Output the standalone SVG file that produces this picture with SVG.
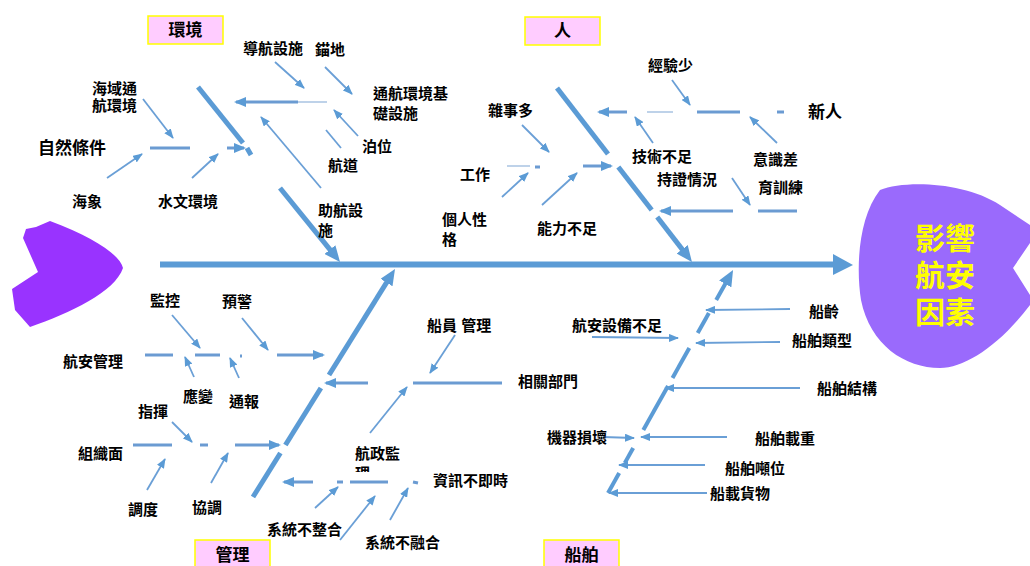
<svg xmlns="http://www.w3.org/2000/svg" width="1030" height="566" viewBox="0 0 1030 566">
<style>
.t{font-family:"Liberation Sans","Noto Sans CJK TC",sans-serif;font-weight:bold;font-size:15px;fill:#000;dominant-baseline:central}
.big{font-size:17px}
.hd{font-family:"Liberation Sans","Noto Sans CJK TC",sans-serif;font-weight:bold;font-size:30px;fill:#ffff00;text-anchor:middle;dominant-baseline:central}
.box{fill:#ffccff;stroke:#ffff00;stroke-width:1.5}
.bone{stroke:#5b9bd5;stroke-width:5;fill:none}
.sb{stroke:#6b9bd2;stroke-width:3;fill:none}
.sbl{stroke:#a9c3e2;stroke-width:1.5;fill:none}
.ar{stroke:#6a9fd6;stroke-width:1.8;fill:none;marker-end:url(#ah)}
.sa{stroke:#6b9bd2;stroke-width:3;fill:none;marker-end:url(#ah2)}
.ln{stroke:#6a9fd6;stroke-width:1.8;fill:none}
</style>
<defs>
<marker id="ah" markerUnits="userSpaceOnUse" markerWidth="10" markerHeight="8" refX="9" refY="4" orient="auto"><path d="M0,0 L10,4 L0,8 Z" fill="#5b9bd5"/></marker>
<marker id="ah2" markerUnits="userSpaceOnUse" markerWidth="12" markerHeight="10" refX="10" refY="5" orient="auto"><path d="M0,0 L12,5 L0,10 Z" fill="#5b9bd5"/></marker>
<marker id="big" markerUnits="userSpaceOnUse" markerWidth="16" markerHeight="14" refX="2" refY="7" orient="auto"><path d="M0,0 L16,7 L0,14 Z" fill="#5b9bd5"/></marker>
<clipPath id="clipLi"><rect x="350" y="462" width="60" height="10"/></clipPath>
</defs>

<g id="tail"><path d="M50,221 L36,227 L26,229 L23,238 L38,272 L12,289 L15,310 L30,327 C70,313 115,292 123,268 C120,255 95,238 50,221 Z" fill="#9933ff"/></g>

<g id="head">
<path d="M880,190 C905,180 965,182 1000,205 L1030,225 L1030,243 L1013,268 L1030,295 L1030,305 C1000,345 965,368 940,368 C905,368 870,345 861,300 C856,268 858,218 880,190 Z" fill="#9a6afc"/>
<text class="hd" x="945" y="238">影響</text>
<text class="hd" x="945" y="275">航安</text>
<text class="hd" x="945" y="312">因素</text>
</g>

<g id="connectors">
<!-- spine -->
<line x1="160" y1="264.5" x2="836" y2="264.5" stroke="#5b9bd5" stroke-width="6"/>
<polygon points="833,254 853,265 833,275" fill="#5b9bd5"/>
<!-- environment bone -->
<line class="bone" x1="198" y1="87" x2="243" y2="143"/>
<line class="bone" x1="247" y1="148" x2="251" y2="155"/>
<line class="bone" x1="280" y1="188" x2="331.2" y2="251.1" marker-end="url(#big)"/>
<!-- people bone -->
<line class="bone" x1="557" y1="88" x2="608" y2="154"/>
<line class="bone" x1="618.3" y1="167" x2="651.7" y2="210"/>
<line class="bone" x1="657.2" y1="217" x2="683.4" y2="250.9" marker-end="url(#big)"/>
<!-- management bone -->
<line class="bone" x1="253" y1="497" x2="280.4" y2="453"/>
<line class="bone" x1="285.4" y1="445" x2="320.9" y2="388"/>
<line class="bone" x1="329" y1="375" x2="387.6" y2="280.9" marker-end="url(#big)"/>
<!-- ship bone -->
<g stroke="#5b9bd5" stroke-width="4" fill="none">
<line x1="608" y1="493" x2="619.2" y2="473"/>
<line x1="624.8" y1="463" x2="633.2" y2="448"/>
<line x1="643.3" y1="430" x2="668" y2="386"/>
<line x1="672.5" y1="378" x2="689.3" y2="348"/>
<line x1="697.7" y1="333" x2="708.9" y2="313"/>
<line x1="716.2" y1="300" x2="726.2" y2="282.2" marker-end="url(#big)"/>
</g>

<!-- environment branches -->
<line class="ar" x1="143" y1="99" x2="173" y2="138"/>
<line class="ar" x1="107" y1="178" x2="142" y2="154"/>
<line class="ar" x1="192" y1="178" x2="218" y2="154"/>
<line class="sb" x1="150" y1="148" x2="190" y2="148" stroke="#4f81bd"/>
<line class="sa" x1="227" y1="148" x2="244" y2="148"/>
<line class="sbl" x1="296" y1="102" x2="327" y2="102"/>
<line class="sa" x1="298" y1="102" x2="236" y2="102"/>
<line class="ar" x1="275" y1="62" x2="304" y2="88"/>
<line class="ar" x1="325" y1="67" x2="352" y2="94"/>
<line class="ar" x1="358" y1="136" x2="334" y2="110"/>
<line class="ln" x1="341" y1="148" x2="326" y2="130"/>
<line class="ar" x1="321" y1="188" x2="261" y2="117"/>

<!-- people branches -->
<line class="ar" x1="672" y1="80" x2="690" y2="105"/>
<line class="sa" x1="627" y1="112" x2="599" y2="112"/>
<line class="sbl" x1="647" y1="112" x2="673" y2="112"/>
<line class="sb" x1="697" y1="112" x2="740" y2="112"/>
<line class="sb" x1="777" y1="112" x2="784" y2="112"/>
<line class="ar" x1="653" y1="143" x2="635" y2="117"/>
<line class="ar" x1="777" y1="143" x2="750" y2="117"/>
<line class="ar" x1="732" y1="178" x2="750" y2="205"/>
<line class="sa" x1="733" y1="211" x2="661" y2="211"/>
<line class="sb" x1="758" y1="211" x2="797" y2="211"/>
<line class="ar" x1="522" y1="125" x2="549" y2="152"/>
<line class="sbl" x1="507" y1="166" x2="530" y2="166"/>
<line class="sb" x1="535" y1="167" x2="540" y2="167"/>
<line class="sa" x1="583" y1="166" x2="611" y2="166"/>
<line class="ar" x1="502" y1="197" x2="528" y2="173"/>
<line class="ar" x1="542" y1="205" x2="577" y2="173"/>

<!-- management branches -->
<line class="sb" x1="145" y1="355" x2="173" y2="355"/>
<line class="sb" x1="195" y1="355" x2="220" y2="355"/>
<line class="sb" x1="240" y1="356" x2="242" y2="356"/>
<line class="sa" x1="277" y1="355" x2="323" y2="355"/>
<line class="ar" x1="172" y1="315" x2="200" y2="348"/>
<line class="ar" x1="242" y1="318" x2="268" y2="350"/>
<line class="ar" x1="194" y1="377" x2="185" y2="357"/>
<line class="ar" x1="239" y1="378" x2="230" y2="358"/>
<line class="sb" x1="133" y1="445" x2="172" y2="445"/>
<line class="sb" x1="200" y1="445" x2="208" y2="445"/>
<line class="sa" x1="235" y1="445" x2="279" y2="445"/>
<line class="ar" x1="172" y1="422" x2="192" y2="442"/>
<line class="ar" x1="147" y1="490" x2="165" y2="459"/>
<line class="ar" x1="211" y1="483" x2="228" y2="453"/>
<line class="sa" x1="368" y1="383" x2="326" y2="383"/>
<line class="sb" x1="413" y1="383" x2="502" y2="383"/>
<line class="ar" x1="455" y1="335" x2="430" y2="373"/>
<line class="ar" x1="370" y1="433" x2="407" y2="387"/>
<line class="sa" x1="313" y1="482" x2="284" y2="482"/>
<line class="sb" x1="337" y1="482" x2="343" y2="482"/>
<line class="sb" x1="350" y1="482" x2="388" y2="482"/>
<line class="sb" x1="413" y1="482" x2="418" y2="483"/>
<line class="ar" x1="315" y1="508" x2="338" y2="487"/>
<line class="ar" x1="340" y1="540" x2="375" y2="496"/>
<line class="ar" x1="390" y1="520" x2="408" y2="488"/>

<!-- ship branches -->
<line class="ar" x1="790" y1="309" x2="706" y2="310"/>
<line class="ar" x1="780" y1="342" x2="696" y2="343"/>
<line class="ar" x1="800" y1="388" x2="665" y2="388"/>
<line class="ar" x1="727" y1="437" x2="641" y2="437"/>
<line class="ar" x1="705" y1="465" x2="619" y2="465"/>
<line class="ar" x1="707" y1="493" x2="609" y2="493"/>
<line class="ar" x1="592" y1="337" x2="678" y2="338"/>
<line class="ar" x1="603" y1="437" x2="634" y2="438"/>
</g>

<g id="cat-env"><rect class="box" x="148" y="16" width="75" height="28"/><text class="t big" x="185.5" y="30" text-anchor="middle">環境</text></g>
<g id="cat-people"><rect class="box" x="525" y="17" width="75" height="28"/><text class="t big" x="562.5" y="31" text-anchor="middle">人</text></g>
<g id="cat-mgmt"><rect class="box" x="195" y="540" width="75" height="30"/><text class="t big" x="232.5" y="555" text-anchor="middle">管理</text></g>
<g id="cat-ship"><rect class="box" x="544" y="540" width="75" height="30"/><text class="t big" x="581.5" y="555" text-anchor="middle">船舶</text></g>

<g id="env-labels">
<text class="t big" x="38" y="148">自然條件</text>
<text class="t" x="92" y="88">海域通</text>
<text class="t" x="92" y="105">航環境</text>
<text class="t" x="72" y="201">海象</text>
<text class="t" x="158" y="201">水文環境</text>
<text class="t" x="243" y="48">導航設施</text>
<text class="t" x="315" y="49">錨地</text>
<text class="t" x="373" y="93">通航環境基</text>
<text class="t" x="373" y="113">礎設施</text>
<text class="t" x="362" y="146">泊位</text>
<text class="t" x="328" y="165">航道</text>
<text class="t" x="318" y="210">助航設</text>
<text class="t" x="318" y="230">施</text>
</g>

<g id="people-labels">
<text class="t" x="648" y="65">經驗少</text>
<text class="t big" x="808" y="112">新人</text>
<text class="t" x="488" y="110">雜事多</text>
<text class="t" x="632" y="156">技術不足</text>
<text class="t" x="753" y="159">意識差</text>
<text class="t" x="657" y="179">持證情況</text>
<text class="t" x="758" y="187">育訓練</text>
<text class="t" x="460" y="174">工作</text>
<text class="t" x="442" y="219">個人性</text>
<text class="t" x="442" y="239">格</text>
<text class="t" x="537" y="228">能力不足</text>
</g>

<g id="mgmt-labels">
<text class="t" x="150" y="300">監控</text>
<text class="t" x="222" y="301">預警</text>
<text class="t" x="63" y="361">航安管理</text>
<text class="t" x="183" y="396">應變</text>
<text class="t" x="229" y="401">通報</text>
<text class="t" x="138" y="411">指揮</text>
<text class="t" x="78" y="453">組織面</text>
<text class="t" x="128" y="509">調度</text>
<text class="t" x="192" y="507">協調</text>
<text class="t" x="427" y="325">船員 管理</text>
<text class="t" x="518" y="381">相關部門</text>
<text class="t" x="355" y="453">航政監</text>
<text class="t" x="355" y="473" clip-path="url(#clipLi)">理</text>
<text class="t" x="433" y="480">資訊不即時</text>
<text class="t" x="267" y="529">系統不整合</text>
<text class="t" x="365" y="542">系統不融合</text>
</g>

<g id="ship-labels">
<text class="t" x="809" y="311">船齡</text>
<text class="t" x="792" y="340">船舶類型</text>
<text class="t" x="817" y="388">船舶結構</text>
<text class="t" x="755" y="438">船舶載重</text>
<text class="t" x="725" y="468">船舶噸位</text>
<text class="t" x="710" y="493">船載貨物</text>
<text class="t" x="572" y="325">航安設備不足</text>
<text class="t" x="547" y="437">機器損壞</text>
</g>
</svg>
